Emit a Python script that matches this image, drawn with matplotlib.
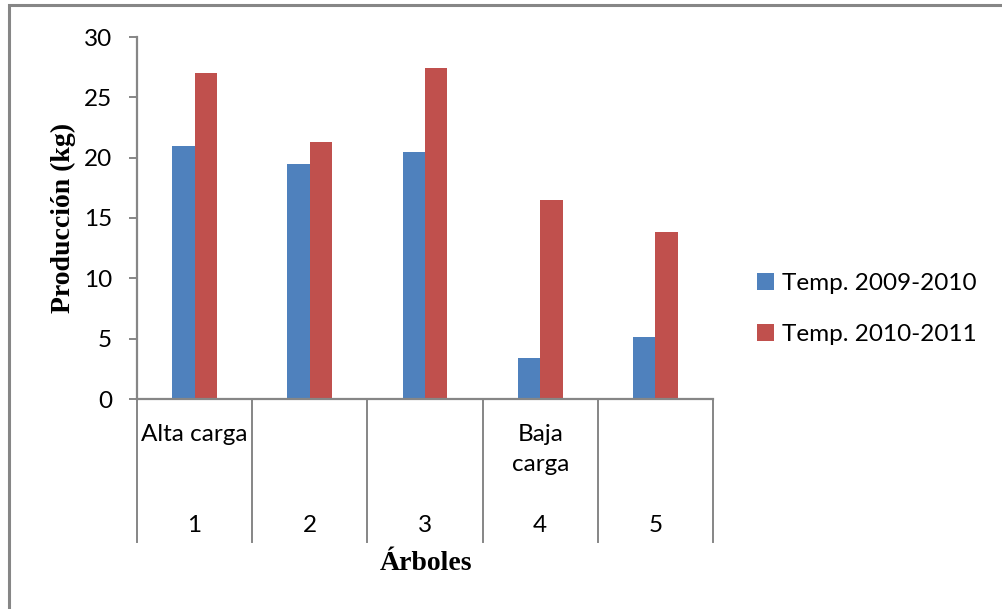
import matplotlib.pyplot as plt
import matplotlib.transforms as mtransforms
from matplotlib.patches import Rectangle
import numpy as np

# production per tree (kg), two seasons
trees = ["1", "2", "3", "4", "5"]
groups = {0: "Alta carga", 3: "Baja\ncarga"}
temp_0910 = [21.0, 19.5, 20.5, 3.4, 5.1]
temp_1011 = [27.0, 21.3, 27.4, 16.5, 13.8]
series_labels = ["Temp. 2009-2010", "Temp. 2010-2011"]

BLUE = "#4f81bd"
RED = "#c0504d"
GREY = "#868686"

W, H = 1002, 609
fig = plt.figure(figsize=(W / 100, H / 100), dpi=100)
plt.rcParams["font.family"] = ["Lato", "DejaVu Sans"]
FS = 17.5

# outer chart frame (only top/left edges fall inside the canvas)
fig.patches.append(Rectangle((9 / W, -0.05), 1.1, 1 - 5 / H + 0.05, transform=fig.transFigure,
                             fill=False, ec=GREY, lw=2.2))

ax = fig.add_axes([137 / W, 1 - 399 / H, (713 - 137) / W, (399 - 37) / H])
x = np.arange(len(trees))
w = 0.195
ax.bar(x - w / 2, temp_0910, w, color=BLUE, label=series_labels[0])
ax.bar(x + w / 2, temp_1011, w, color=RED, label=series_labels[1])

ax.set_xlim(-0.5, len(trees) - 0.5)
ax.set_ylim(0, 30)
ax.set_yticks(range(0, 31, 5))
ax.tick_params(axis="y", length=6, width=1.4, color=GREY, labelsize=FS, pad=12)
ax.set_xticks([])
for s in ["top", "right"]:
    ax.spines[s].set_visible(False)
for s in ["left", "bottom"]:
    ax.spines[s].set_color(GREY)
    ax.spines[s].set_linewidth(1.6)

# two-level category axis: separators, group names, tree numbers
trans = mtransforms.blended_transform_factory(ax.transData, ax.transAxes)
bottom = -(542 - 399) / (399 - 37)
for b in np.arange(-0.5, len(trees)):
    ax.plot([b, b], [0, bottom], transform=trans, color=GREY, lw=1.4, clip_on=False)
for i, t in enumerate(trees):
    ax.text(i, -(525 - 399) / 362, t, transform=trans, ha="center", va="center", fontsize=FS)
for i, g in groups.items():
    ax.text(i, -(424 - 399) / 362, g, transform=trans, ha="center", va="top",
            fontsize=FS, linespacing=1.55)

ax.set_ylabel("Producción (kg)", family="Liberation Serif", fontweight="bold", fontsize=20)
ax.yaxis.set_label_coords((76 - 137) / 576, 0.5)
fig.text(426 / W, 1 - 563 / H, "Árboles", family="Liberation Serif", fontweight="bold",
         fontsize=20, ha="center", va="center")

fig.legend(loc="center left", bbox_to_anchor=(735 / W, 1 - 309 / H), frameon=False,
           fontsize=FS, handlelength=0.7, handleheight=0.7, handletextpad=0.35,
           labelspacing=1.25)

fig.savefig("out.png", dpi=100)
